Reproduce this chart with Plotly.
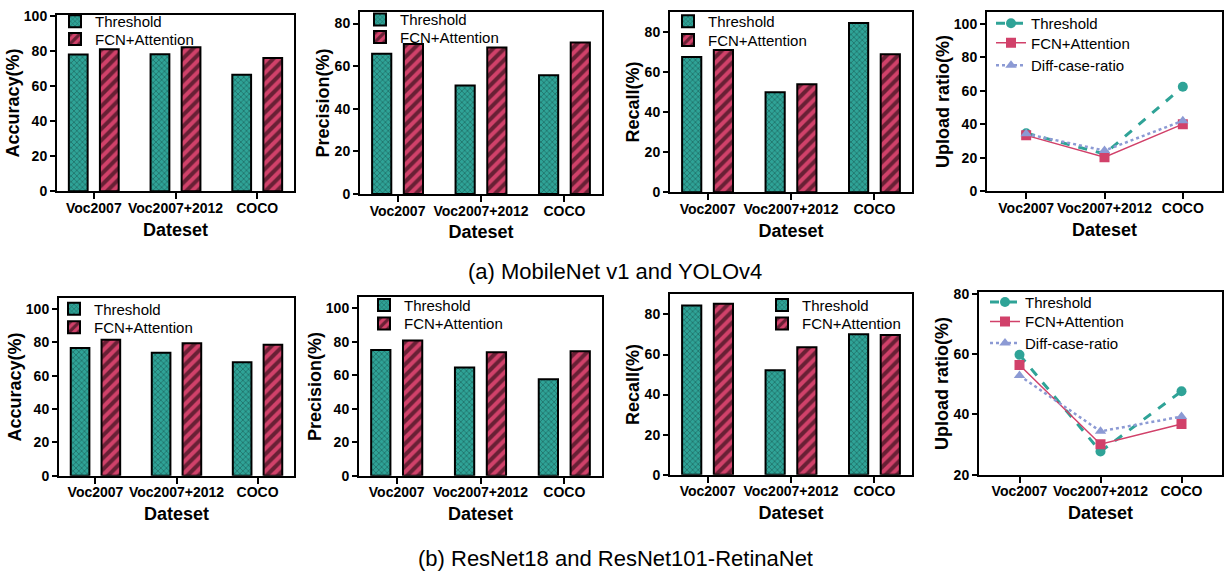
import plotly.graph_objects as go

categories = ["Voc2007", "Voc2007+2012", "COCO"]

# (a) MobileNet v1 and YOLOv4
acc_a_thr = [77.8, 78.0, 66.3]
acc_a_fcn = [80.9, 82.0, 75.9]
prec_a_thr = [65.9, 50.9, 55.8]
prec_a_fcn = [70.4, 68.8, 71.1]
rec_a_thr = [67.5, 49.9, 84.5]
rec_a_fcn = [70.9, 53.8, 68.8]
up_a_thr = [34.6, 22.2, 62.3]
up_a_fcn = [33.3, 20.3, 40.0]
up_a_diff = [34.2, 24.2, 42.0]

# (b) ResNet18 and ResNet101-RetinaNet
acc_b_thr = [76.6, 73.7, 68.0]
acc_b_fcn = [81.5, 79.5, 78.5]
prec_b_thr = [75.0, 64.5, 57.6]
prec_b_fcn = [80.6, 73.7, 74.2]
rec_b_thr = [84.5, 52.2, 70.1]
rec_b_fcn = [85.3, 63.6, 69.8]
up_b_thr = [59.8, 27.7, 47.7]
up_b_fcn = [56.4, 30.1, 36.8]
up_b_diff = [52.9, 34.4, 39.3]

W, H = 1231, 585
TEAL = "#2fa397"
CRIMSON = "#d1416a"
PERI = "#8c9ad4"
FONT = "Arial, Liberation Sans, sans-serif"


def dx(a, b):
    return [a / W, b / W]


def dy(top, bottom):
    return [1 - bottom / H, 1 - top / H]


# legend rows: (text-start x px, row-centre y px) for each series
panels = [
    dict(kind="bar", ytitle="Accuracy(%)", yrange=[0, 100.5], ticks=[0, 20, 40, 60, 80, 100],
         data=(acc_a_thr, acc_a_fcn), xd=(57, 294), yd=(8, 189), leg=[(95, 15), (95, 33)]),
    dict(kind="bar", ytitle="Precision(%)", yrange=[0, 85.5], ticks=[0, 20, 40, 60, 80],
         data=(prec_a_thr, prec_a_fcn), xd=(360, 602), yd=(5, 192), leg=[(400, 13), (400, 31)]),
    dict(kind="bar", ytitle="Recall(%)", yrange=[0, 90], ticks=[0, 20, 40, 60, 80],
         data=(rec_a_thr, rec_a_fcn), xd=(670, 912), yd=(5, 190), leg=[(708, 15), (708, 34)]),
    dict(kind="line", ytitle="Upload ratio(%)", yrange=[0, 107], ticks=[0, 20, 40, 60, 80, 100],
         data=(up_a_thr, up_a_fcn, up_a_diff), xd=(987, 1222), yd=(5, 189),
         leg=[(1031, 17), (1031, 37), (1031, 60)]),
    dict(kind="bar", ytitle="Accuracy(%)", yrange=[0, 106.4], ticks=[0, 20, 40, 60, 80, 100],
         data=(acc_b_thr, acc_b_fcn), xd=(59, 294), yd=(299, 481), leg=[(94, 310), (94, 329)]),
    dict(kind="bar", ytitle="Precision(%)", yrange=[0, 106.4], ticks=[0, 20, 40, 60, 80, 100],
         data=(prec_b_thr, prec_b_fcn), xd=(359, 602), yd=(298, 481), leg=[(404, 306), (404, 325)]),
    dict(kind="bar", ytitle="Recall(%)", yrange=[0, 90], ticks=[0, 20, 40, 60, 80],
         data=(rec_b_thr, rec_b_fcn), xd=(670, 912), yd=(295, 480), leg=[(802, 306), (802, 325)]),
    dict(kind="line", ytitle="Upload ratio(%)", yrange=[20, 80.5], ticks=[20, 40, 60, 80],
         data=(up_b_thr, up_b_fcn, up_b_diff), xd=(979, 1222), yd=(293, 480),
         leg=[(1025, 303), (1025, 323), (1025, 345)]),
]

fig = go.Figure()
layout = dict(
    width=W, height=H, margin=dict(l=0, r=0, t=0, b=0),
    paper_bgcolor="white", plot_bgcolor="white",
    font=dict(family=FONT, color="black"),
    showlegend=True,
)

leg_count = 0


def new_legend(pos):
    global leg_count
    leg_count += 1
    name = "legend" if leg_count == 1 else "legend%d" % leg_count
    tx, ty = pos
    layout[name] = dict(
        x=(tx - 40) / W, y=1 - ty / H, xanchor="left", yanchor="middle",
        bgcolor="rgba(0,0,0,0)", font=dict(size=15, family=FONT),
        itemwidth=30, borderwidth=0,
    )
    return name


for i, p in enumerate(panels, start=1):
    sfx = "" if i == 1 else str(i)
    xa, ya = "x" + sfx, "y" + sfx
    if p["kind"] == "bar":
        thr, fcn = p["data"]
        fig.add_trace(go.Bar(
            x=categories, y=thr, name="Threshold", xaxis=xa, yaxis=ya, legend=new_legend(p["leg"][0]),
            width=0.23, offset=-0.305,
            marker=dict(color=TEAL, line=dict(color="black", width=2),
                        pattern=dict(shape="x", fgcolor="#0f3b36", bgcolor=TEAL,
                                     size=4, solidity=0.35)),
        ))
        fig.add_trace(go.Bar(
            x=categories, y=fcn, name="FCN+Attention", xaxis=xa, yaxis=ya, legend=new_legend(p["leg"][1]),
            width=0.23, offset=0.075,
            marker=dict(color=CRIMSON, line=dict(color="black", width=2),
                        pattern=dict(shape="/", fgcolor="black", bgcolor=CRIMSON,
                                     size=8, solidity=0.5)),
        ))
        xrange = [-0.45, 2.45]
    else:
        thr, fcn, diff = p["data"]
        fig.add_trace(go.Scatter(
            x=categories, y=thr, name="Threshold", xaxis=xa, yaxis=ya, legend=new_legend(p["leg"][0]),
            mode="lines+markers", line=dict(color=TEAL, width=3, dash="dash"),
            marker=dict(symbol="circle", size=10, color=TEAL),
        ))
        fig.add_trace(go.Scatter(
            x=categories, y=fcn, name="FCN+Attention", xaxis=xa, yaxis=ya, legend=new_legend(p["leg"][1]),
            mode="lines+markers", line=dict(color=CRIMSON, width=1.5),
            marker=dict(symbol="square", size=10, color=CRIMSON),
        ))
        fig.add_trace(go.Scatter(
            x=categories, y=diff, name="Diff-case-ratio", xaxis=xa, yaxis=ya, legend=new_legend(p["leg"][2]),
            mode="lines+markers", line=dict(color=PERI, width=2.5, dash="dot"),
            marker=dict(symbol="triangle-up", size=10, color=PERI),
        ))
        xrange = [-0.5, 2.5]

    layout["xaxis" + sfx] = dict(
        domain=dx(*p["xd"]), anchor=ya, range=xrange, type="category",
        showline=True, linecolor="black", linewidth=2, mirror=True,
        ticks="outside", ticklen=6, tickwidth=2, tickcolor="black",
        ticklabelstandoff=-3,
        showgrid=False, zeroline=False, fixedrange=True,
        tickfont=dict(size=14, weight="bold", family=FONT),
        title=dict(text="Dateset", font=dict(size=18, weight="bold", family=FONT), standoff=8),
    )
    layout["yaxis" + sfx] = dict(
        domain=dy(*p["yd"]), anchor=xa, range=p["yrange"], tickvals=p["ticks"],
        showline=True, linecolor="black", linewidth=2, mirror=True,
        ticks="outside", ticklen=5, tickwidth=2, tickcolor="black",
        showgrid=False, zeroline=False, fixedrange=True,
        tickfont=dict(size=14, weight="bold", family=FONT),
        title=dict(text=p["ytitle"], font=dict(size=18, weight="bold", family=FONT), standoff=0),
    )

layout["annotations"] = [
    dict(text="(a) MobileNet v1 and YOLOv4", x=615 / W, y=1 - 271 / H, xref="paper", yref="paper",
         showarrow=False, font=dict(size=22, family=FONT), xanchor="center", yanchor="middle"),
    dict(text="(b) ResNet18 and ResNet101-RetinaNet", x=615 / W, y=1 - 566 / H, xref="paper", yref="paper",
         showarrow=False, font=dict(size=22, family=FONT), xanchor="center", yanchor="middle"),
]

fig.update_layout(**layout)
fig.write_html("out.html")
